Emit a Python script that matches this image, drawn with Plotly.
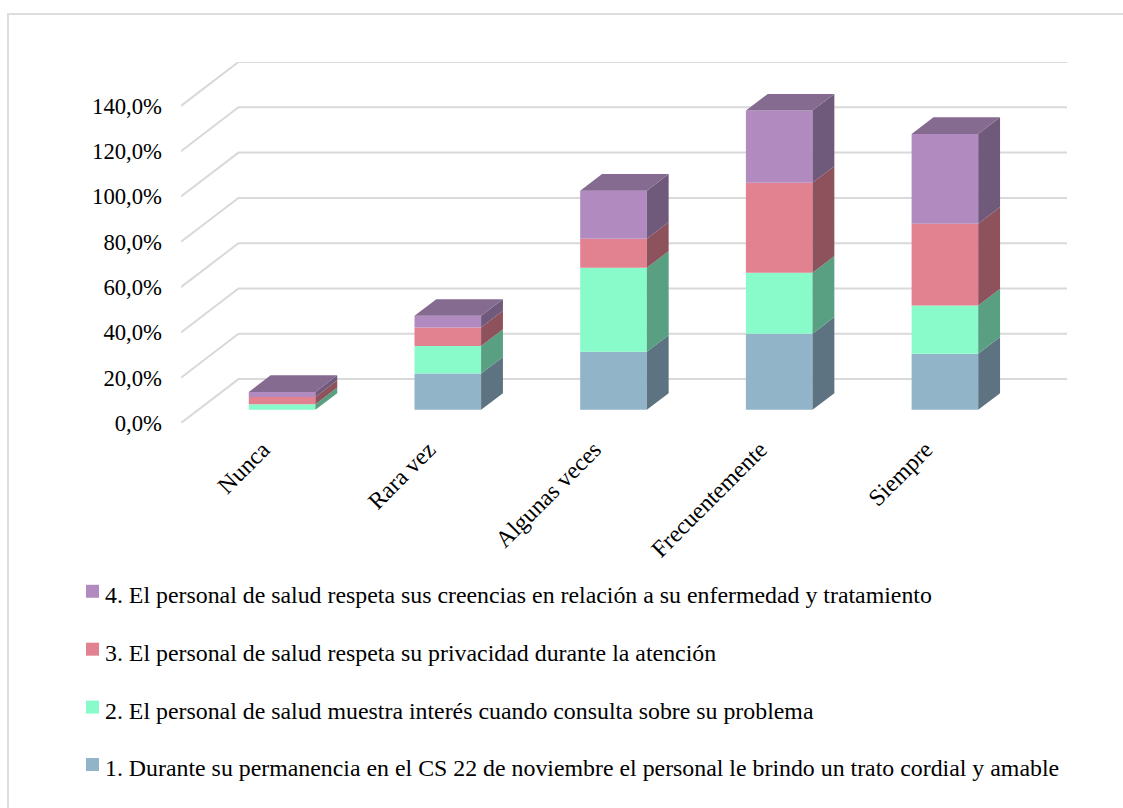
import plotly.graph_objects as go

# Survey answers per frequency category, one list per question (percent of respondents)
categories = ["Nunca", "Rara vez", "Algunas veces", "Frecuentemente", "Siempre"]
q1_trato = [0.0, 16.0, 25.6, 33.6, 24.8]
q2_interes = [2.5, 12.2, 37.1, 26.9, 21.3]
q3_privacidad = [3.2, 8.2, 12.8, 39.7, 36.1]
q4_creencias = [2.2, 5.1, 21.2, 31.9, 39.6]

series_names = [
    "1. Durante su permanencia en el CS 22 de noviembre el personal le brindo un trato cordial y amable",
    "2. El personal de salud muestra interés cuando consulta sobre su problema",
    "3. El personal de salud respeta su privacidad durante la atención",
    "4. El personal de salud respeta sus creencias en relación a su enfermedad y tratamiento",
]
series_values = [q1_trato, q2_interes, q3_privacidad, q4_creencias]
front_colors = ["#91B4C8", "#89FBCB", "#E28291", "#B18BBF"]
side_colors = ["#5D7381", "#599F82", "#8D525C", "#705A7B"]
top_color = "#866B91"
grid_color = "#D9D9D9"

y_ticks = [0, 20, 40, 60, 80, 100, 120, 140]
y_tick_labels = ["0,0%", "20,0%", "40,0%", "60,0%", "80,0%", "100,0%", "120,0%", "140,0%"]

# Oblique projection: full depth of the floor, expressed in axis units
W, H = 1123, 808
LEFT, RIGHT, TOP, BOTTOM = 181, 1067, 62, 423.5
DEPTH_X = 0.3468
DEPTH_Y = 19.37
BAR_WIDTH = 0.402
BAR_D0, BAR_D1 = 0.30, 0.68
FONT = "Liberation Serif"


def px_x(px):
    return (px - LEFT) / (RIGHT - LEFT)


def px_y(py):
    return (BOTTOM - py) / (BOTTOM - TOP)


fig = go.Figure()

# Front faces of the stacked columns
bar_x = [i + 0.006 + BAR_D0 * DEPTH_X for i in range(len(categories))]
offset = BAR_D0 * DEPTH_Y
cumulative = [0.0] * len(categories)
levels = []
for name, values, color in zip(series_names, series_values, front_colors):
    bases = [c + offset for c in cumulative]
    fig.add_trace(go.Bar(x=bar_x, y=values, base=bases, width=BAR_WIDTH, name=name,
                         marker=dict(color=color, line=dict(width=0)),
                         showlegend=False, hoverinfo="skip"))
    levels.append(list(cumulative))
    cumulative = [c + v for c, v in zip(cumulative, values)]
levels.append(list(cumulative))

# Right-hand side faces, one parallelogram per segment
dx = (BAR_D1 - BAR_D0) * DEPTH_X
dy = (BAR_D1 - BAR_D0) * DEPTH_Y
for s, color in enumerate(side_colors):
    xs, ys = [], []
    for i, cx in enumerate(bar_x):
        right = cx + BAR_WIDTH / 2
        low = levels[s][i] + offset
        high = levels[s + 1][i] + offset
        xs += [right, right + dx, right + dx, right, right, None]
        ys += [low, low + dy, high + dy, high, low, None]
    fig.add_trace(go.Scatter(x=xs, y=ys, mode="lines", fill="toself", fillcolor=color,
                             line=dict(width=0, color=color),
                             showlegend=False, hoverinfo="skip"))

# Top caps of the columns
xs, ys = [], []
for i, cx in enumerate(bar_x):
    left, right = cx - BAR_WIDTH / 2, cx + BAR_WIDTH / 2
    high = levels[-1][i] + offset
    xs += [left, right, right + dx, left + dx, left, None]
    ys += [high, high, high + dy, high + dy, high, None]
fig.add_trace(go.Scatter(x=xs, y=ys, mode="lines", fill="toself", fillcolor=top_color,
                         line=dict(width=0, color=top_color),
                         showlegend=False, hoverinfo="skip"))

shapes = []
x_left = -0.5
x_right = len(categories) - 0.5

# Gridlines running along the side wall and the back wall
for t in y_ticks:
    shapes.append(dict(type="path", xref="x", yref="y", layer="below",
                       path=f"M {x_left} {t} L {x_left + DEPTH_X} {t + DEPTH_Y} "
                            f"L {x_right + DEPTH_X} {t + DEPTH_Y}",
                       line=dict(color=grid_color, width=2)))

# Chart frame, running past the page on the right and at the bottom
shapes.append(dict(type="rect", xref="paper", yref="paper", layer="below",
                   x0=px_x(8), x1=px_x(1140), y0=px_y(14), y1=px_y(830),
                   line=dict(color="#DDDDDD", width=2), fillcolor="rgba(0,0,0,0)"))

# Key below the plot, last question first
annotations = []
key_y = [592, 650, 708, 765.5]
for row, s in zip(key_y, reversed(range(len(series_names)))):
    shapes.append(dict(type="rect", xref="paper", yref="paper", layer="above",
                       x0=px_x(86), x1=px_x(99), y0=px_y(row - 6.5), y1=px_y(row + 6.5),
                       fillcolor=front_colors[s], line=dict(width=0)))
    annotations.append(dict(xref="paper", yref="paper", x=px_x(103), y=px_y(row + 3.5),
                            xanchor="left", yanchor="middle", showarrow=False,
                            text=series_names[s],
                            font=dict(family=FONT, size=23.85, color="#000000")))

fig.update_layout(
    width=W, height=H,
    margin=dict(l=LEFT, r=W - RIGHT, t=TOP, b=H - BOTTOM, pad=0),
    paper_bgcolor="white", plot_bgcolor="rgba(0,0,0,0)",
    barmode="overlay", showlegend=False,
    shapes=shapes, annotations=annotations,
    font=dict(family=FONT, size=22, color="#000000"),
    xaxis=dict(range=[x_left, x_right + DEPTH_X], tickmode="array",
               tickvals=list(range(len(categories))), ticktext=categories,
               tickangle=-45, showgrid=False, zeroline=False, showline=False,
               ticks="", ticklabelstandoff=7, ticklabelshift=-1, automargin=False,
               tickfont=dict(family=FONT, size=23.8)),
    yaxis=dict(range=[0, 140 + DEPTH_Y], tickmode="array",
               tickvals=y_ticks, ticktext=y_tick_labels,
               showgrid=False, zeroline=False, showline=False,
               ticks="", ticklabelstandoff=18, automargin=False,
               tickfont=dict(family=FONT, size=22.7)),
)

fig.write_html("out.html", config=dict(displayModeBar=False))
